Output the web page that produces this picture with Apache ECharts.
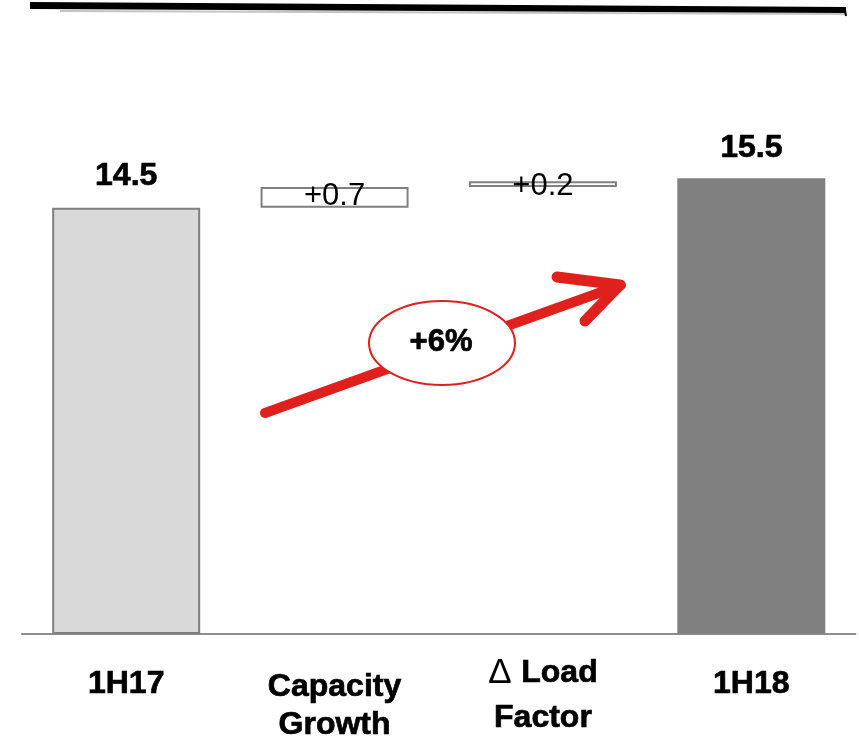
<!DOCTYPE html>
<html>
<head>
<meta charset="utf-8">
<script src="https://cdn.jsdelivr.net/npm/echarts@6/dist/echarts.min.js"></script>
<style>
  html, body { margin: 0; padding: 0; background: #fff; }
  #chart { width: 859px; height: 742px; }
</style>
</head>
<body>
<div id="chart"></div>
<script>
// Revenue bridge, 1H17 -> 1H18
const categories = ['1H17', 'Capacity\nGrowth', 'Δ Load\nFactor', '1H18'];
const totals = [14.5, null, null, 15.5];
const deltas = [null, 0.7, 0.2, null];
const growthLabel = '+6%';

const FONT = '"Liberation Sans", Arial, sans-serif';
// slight outline gives the heavy headline weight
const HEAVY = { textBorderColor: '#000', textBorderWidth: 0.7 };

// invisible offsets so each delta box floats at its running total
const offsets = [];
let running = 0;
categories.forEach((c, i) => {
  if (totals[i] != null) { offsets.push(0); running = totals[i]; }
  else { offsets.push(running); running += deltas[i]; }
});

const totalStyles = [
  { color: '#d9d9d9', borderColor: '#7f7f7f', borderWidth: 2 },
  null, null,
  { color: '#808080', borderWidth: 0 }
];

const visible = categories.map((c, i) => {
  if (totals[i] != null) {
    return {
      value: totals[i],
      itemStyle: totalStyles[i],
      label: Object.assign({
        show: true, position: 'top', distance: i === 3 ? 14 : 16,
        formatter: totals[i].toFixed(1),
        fontFamily: FONT, fontWeight: 'bold', fontSize: 32, color: '#000'
      }, HEAVY)
    };
  }
  return {
    value: deltas[i],
    itemStyle: { color: '#ffffff', borderColor: '#808080', borderWidth: 2 },
    label: {
      show: true, position: 'inside',
      formatter: '+' + deltas[i].toFixed(1),
      fontFamily: FONT, fontWeight: 'normal', fontSize: 31, color: '#000',
      offset: [0, i === 1 ? -1 : 2]
    }
  };
});

const boldRich = (lh) => Object.assign({
  fontFamily: FONT, fontWeight: 'bold', fontSize: 32, color: '#000', lineHeight: lh
}, HEAVY);

const chart = echarts.init(document.getElementById('chart'), null, { renderer: 'canvas' });

chart.setOption({
  animation: false,
  backgroundColor: '#fff',
  grid: { left: 22, right: 3.5, top: 46, bottom: 108, containLabel: false },
  xAxis: {
    type: 'category',
    data: categories,
    axisLine: { show: true, lineStyle: { color: '#8c8c8c', width: 2 } },
    axisTick: { show: false },
    axisLabel: {
      margin: 30,
      interval: 0,
      formatter: function (v) {
        if (v === 'Capacity\nGrowth') return '{c1|Capacity}\n{c2|Growth}';
        if (v === 'Δ Load\nFactor') return '{d0|Δ }{d1|Load}\n{d2|Factor}';
        return '{a|' + v + '}';
      },
      rich: {
        a:  boldRich(41),
        c1: boldRich(46),
        c2: boldRich(30),
        d0: { fontFamily: FONT, fontWeight: 'normal', fontSize: 35, color: '#000', lineHeight: 18 },
        d1: boldRich(18),
        d2: boldRich(72)
      }
    }
  },
  yAxis: {
    type: 'value', min: 0, max: 20,
    show: false,
    splitLine: { show: false }
  },
  series: [
    {
      name: 'offset', type: 'bar', stack: 'bridge', barWidth: 148,
      itemStyle: { color: 'rgba(0,0,0,0)' },
      silent: true,
      data: offsets
    },
    {
      name: 'value', type: 'bar', stack: 'bridge', barWidth: 148,
      data: visible
    }
  ],
  graphic: [
    // heading rule across the top
    { type: 'line', z: 9,
      shape: { x1: 60, y1: 11, x2: 846, y2: 14 },
      style: { stroke: '#c4c4c4', lineWidth: 2 } },
    { type: 'polygon', z: 10,
      shape: { points: [[30, 2], [846, 7], [846, 13], [30, 9]] },
      style: { fill: '#000' } },
    { type: 'line', z: 10,
      shape: { x1: 845, y1: 10, x2: 846, y2: 16 },
      style: { stroke: '#000', lineWidth: 2 } },
    // growth arrow
    { type: 'polyline', z: 20,
      shape: { points: [[265, 413], [621, 285]] },
      style: { stroke: '#e0201c', lineWidth: 10, lineCap: 'round' } },
    { type: 'polyline', z: 20,
      shape: { points: [[557, 277], [620, 285], [585, 321]] },
      style: { stroke: '#e0201c', lineWidth: 11, lineCap: 'round', lineJoin: 'round', fill: null } },
    { type: 'ellipse', z: 21,
      shape: { cx: 442, cy: 343, rx: 73, ry: 42 },
      style: { fill: '#fff', stroke: '#e0201c', lineWidth: 2 } },
    { type: 'text', z: 22, x: 441, y: 342,
      style: Object.assign({ text: growthLabel, fontFamily: FONT, fontWeight: 'bold', fontSize: 31,
               fill: '#000', align: 'center', verticalAlign: 'middle' }, { stroke: '#000', lineWidth: 0.7 }) }
  ]
});
</script>
</body>
</html>
